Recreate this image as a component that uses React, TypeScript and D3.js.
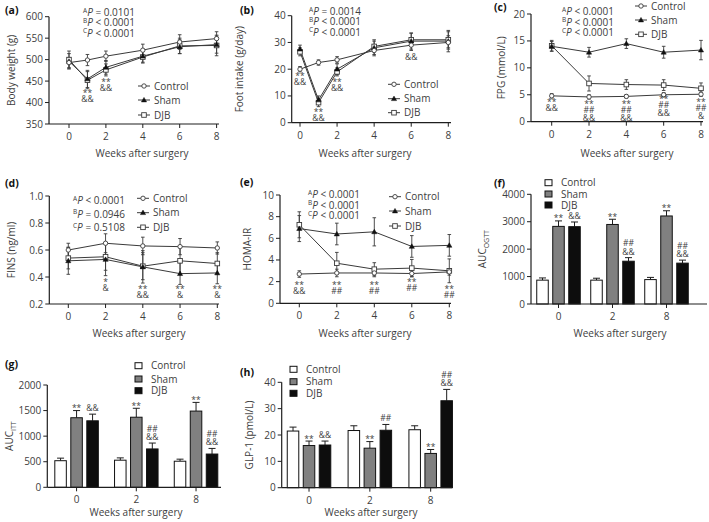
import React from "react";
import * as d3 from "d3";

// ---------- shared categories ----------
const seriesNames = ["Control", "Sham", "DJB"];
const weeks6 = [0, 1, 2, 4, 6, 8];
const weeks5 = [0, 2, 4, 6, 8];
const barGroups = ["0", "2", "8"];

// ---------- (a) body weight ----------
const bwControl = [493, 499, 508, 522, 541, 549];
const bwControlErr = [12, 13, 12, 14, 17, 16];
const bwSham = [496, 455, 482, 508, 530, 535];
const bwShamErr = [18, 20, 16, 14, 16, 20];
const bwDJB = [500, 452, 476, 506, 532, 533];
const bwDJBErr = [20, 20, 14, 14, 18, 24];
const bwTicks = [350, 400, 450, 500, 550, 600];
const bwP = [["A", "= 0.0101"], ["B", "< 0.0001"], ["C", "< 0.0001"]];
const bwAnn = [{ x: 1, v: 428, lines: ["**", "&&"] }, { x: 2, v: 452, lines: ["**", "&&"] }];

// ---------- (b) food intake ----------
const fiControl = [20, 22.5, 23.5, 27, 29, 30];
const fiControlErr = [1, 1, 1.2, 1.5, 2, 2.5];
const fiSham = [27.5, 8.5, 20, 28, 30.5, 30.5];
const fiShamErr = [1.5, 1.5, 2, 3, 3, 4];
const fiDJB = [26.5, 7.5, 19, 28.5, 31, 31];
const fiDJBErr = [1.5, 1.5, 1.5, 2, 2.5, 3];
const fiTicks = [0, 10, 20, 30, 40];
const fiP = [["A", "= 0.0014"], ["B", "< 0.0001"], ["C", "< 0.0001"]];
const fiAnn = [
  { x: 0, v: 18.2, lines: ["**", "&&"] },
  { x: 1, v: 4.7, lines: ["**", "&&"] },
  { x: 2, v: 16, lines: ["**", "&&"] },
  { x: 6, v: 24.7, lines: ["&&"] },
];

// ---------- (c) FPG ----------
const fpgControl = [4.8, 4.6, 4.7, 5.0, 5.1];
const fpgControlErr = [0.4, 0.4, 0.3, 0.4, 0.4];
const fpgSham = [14.0, 12.9, 14.5, 12.9, 13.3];
const fpgShamErr = [0.9, 0.9, 0.9, 1.1, 1.8];
const fpgDJB = [14.1, 7.1, 6.9, 6.8, 6.2];
const fpgDJBErr = [1.0, 1.4, 0.9, 1.0, 1.0];
const fpgTicks = [0, 5, 10, 15, 20];
const fpgP = [["A", "< 0.0001"], ["B", "< 0.0001"], ["C", "< 0.0001"]];
const fpgAnn = [
  { x: 0, v: 4.0, lines: ["**", "&&"] },
  { x: 2, v: 3.7, lines: ["**", "##", "&&"] },
  { x: 4, v: 3.7, lines: ["**", "##", "&&"] },
  { x: 6, v: 4.5, lines: ["**", "##", "&&"] },
  { x: 8, v: 4.0, lines: ["**", "##", "&"] },
];

// ---------- (d) FINS ----------
const finsControl = [0.6, 0.65, 0.63, 0.625, 0.615];
const finsControlErr = [0.05, 0.07, 0.065, 0.06, 0.045];
const finsSham = [0.52, 0.53, 0.475, 0.425, 0.43];
const finsShamErr = [0.1, 0.12, 0.12, 0.08, 0.08];
const finsDJB = [0.54, 0.55, 0.48, 0.52, 0.5];
const finsDJBErr = [0.08, 0.1, 0.1, 0.1, 0.08];
const finsTicks = [0.2, 0.4, 0.6, 0.8, 1.0];
const finsP = [["A", "< 0.0001"], ["B", "= 0.0946"], ["C", "= 0.5108"]];
const finsAnn = [
  { x: 2, v: 0.378, lines: ["*", "&"] },
  { x: 4, v: 0.324, lines: ["**", "&&"] },
  { x: 6, v: 0.326, lines: ["**", "&"] },
  { x: 8, v: 0.326, lines: ["**", "&"] },
];

// ---------- (e) HOMA-IR ----------
const homaControl = [2.7, 2.8, 2.8, 2.75, 2.9];
const homaControlErr = [0.3, 0.35, 0.35, 0.3, 0.3];
const homaSham = [6.9, 6.4, 6.6, 5.25, 5.35];
const homaShamErr = [1.2, 1.0, 1.3, 1.0, 1.0];
const homaDJB = [7.25, 3.7, 3.15, 3.25, 3.0];
const homaDJBErr = [1.2, 1.0, 0.6, 0.8, 1.1];
const homaTicks = [0, 2, 4, 6, 8, 10];
const homaP = [["A", "< 0.0001"], ["B", "< 0.0001"], ["C", "< 0.0001"]];
const homaAnn = [
  { x: 0, v: 1.85, lines: ["**", "&&"] },
  { x: 2, v: 1.87, lines: ["**", "##"] },
  { x: 4, v: 1.87, lines: ["**", "##"] },
  { x: 6, v: 2.15, lines: ["**", "##"] },
  { x: 8, v: 1.53, lines: ["**", "##"] },
];

// ---------- (f) AUC OGTT ----------
const ogttControl = [870, 870, 890];
const ogttControlErr = [80, 70, 80];
const ogttSham = [2830, 2900, 3210];
const ogttShamErr = [200, 190, 190];
const ogttDJB = [2820, 1560, 1490];
const ogttDJBErr = [170, 130, 110];
const ogttTicks = [0, 1000, 2000, 3000, 4000];
const ogttAnn = [
  { g: 0, s: 1, lines: ["**"] }, { g: 0, s: 2, lines: ["&&"] },
  { g: 1, s: 1, lines: ["**"] }, { g: 1, s: 2, lines: ["##", "&&"] },
  { g: 2, s: 1, lines: ["**"] }, { g: 2, s: 2, lines: ["##", "&&"] },
];

// ---------- (g) AUC ITT ----------
const ittControl = [520, 530, 510];
const ittControlErr = [50, 45, 40];
const ittSham = [1360, 1370, 1490];
const ittShamErr = [140, 175, 170];
const ittDJB = [1300, 750, 650];
const ittDJBErr = [130, 115, 110];
const ittTicks = [0, 500, 1000, 1500, 2000];
const ittAnn = [
  { g: 0, s: 1, lines: ["**"] }, { g: 0, s: 2, lines: ["&&"] },
  { g: 1, s: 1, lines: ["**"] }, { g: 1, s: 2, lines: ["##", "&&"] },
  { g: 2, s: 1, lines: ["**"] }, { g: 2, s: 2, lines: ["##", "&&"] },
];

// ---------- (h) GLP-1 ----------
const glpControl = [21.5, 21.7, 22.0];
const glpControlErr = [1.5, 1.8, 1.5];
const glpSham = [16, 15, 13];
const glpShamErr = [1.7, 2.5, 1.5];
const glpDJB = [16.2, 21.8, 33];
const glpDJBErr = [1.5, 2.2, 4.3];
const glpTicks = [0, 10, 20, 30, 40];
const glpAnn = [
  { g: 0, s: 1, lines: ["**"] }, { g: 0, s: 2, lines: ["&&"] },
  { g: 1, s: 1, lines: ["**"] }, { g: 1, s: 2, lines: ["##"] },
  { g: 2, s: 1, lines: ["**"] }, { g: 2, s: 2, lines: ["##", "&&"] },
];

// ---------- styling ----------
const FONT = "'Open Sans', 'Noto Sans', sans-serif";
const TXT = "#404040";
const AX = "#1e1e1e";
const LINE = "#3a3a3a";
const barFills = ["#ffffff", "#808080", "#0d0d0d"];

function Marker({ kind, x, y }: { kind: number; x: number; y: number }) {
  if (kind === 0) return <circle cx={x} cy={y} r={2.2} fill="#fff" stroke={LINE} strokeWidth={0.9} />;
  if (kind === 1)
    return <path d={`M${x},${y - 2.6}L${x + 2.6},${y + 1.9}L${x - 2.6},${y + 1.9}Z`} fill="#111" stroke="#111" strokeWidth={0.5} />;
  return <rect x={x - 2.3} y={y - 2.3} width={4.6} height={4.6} fill="#fff" stroke={LINE} strokeWidth={0.9} />;
}

// one <text> element for a stack of lines (significance marks)
function Stack({ x, y, lines, step }: { x: number; y: number; lines: string[]; step: number }) {
  return (
    <text x={x} y={y} textAnchor="middle" fontSize={8.5} fontFamily={FONT} fill={TXT}>
      {lines.map((t, i) => {
        const prevStar = i > 0 && lines[i - 1].startsWith("*");
        const dy = i === 0 ? (t.startsWith("*") ? 2 : 0) : step - (prevStar ? 2 : 0);
        return (
          <tspan key={i} x={x} dy={dy}>
            {t}
          </tspan>
        );
      })}
    </text>
  );
}

function PText({ x, y, rows, dy }: { x: number; y: number; rows: string[][]; dy: number }) {
  return (
    <text x={x} y={y} fontFamily={FONT} fill={TXT} fontSize={10}>
      {rows.map((r, i) => (
        <React.Fragment key={i}>
          <tspan x={x} dy={i === 0 ? -3.5 : dy - 3.5} fontSize={6.5}>{r[0]}</tspan>
          <tspan fontStyle="italic" dy={3.5}>P</tspan>
          <tspan> {r[1]}</tspan>
        </React.Fragment>
      ))}
    </text>
  );
}

function YAxis({ f, y, ticks, fmt, title, titleX }: any) {
  return (
    <g>
      <line x1={f.ax} x2={f.ax} y1={f.top} y2={f.bottom} stroke={AX} strokeWidth={1.2} />
      {ticks.map((t: number) => (
        <g key={t}>
          <line x1={f.ax - 4} x2={f.ax} y1={y(t)} y2={y(t)} stroke={AX} strokeWidth={1} />
          <text x={f.ax - 6} y={y(t) + 3.5} textAnchor="end" fontSize={10} fontFamily={FONT} fill={TXT}>
            {fmt ? fmt(t) : t}
          </text>
        </g>
      ))}
      <text
        transform={`translate(${titleX},${(f.top + f.bottom) / 2}) rotate(-90)`}
        textAnchor="middle"
        fontSize={10}
        fontFamily={FONT}
        fill={TXT}
      >
        {title}
      </text>
    </g>
  );
}

function LinePanel(props: any) {
  const { f, label, labelPos, yDomain, yTicks, fmt, yTitle, yTitleX, xs, series, pPos, pRows, legend, ann, xTitle } = props;
  const x = d3.scaleLinear().domain([0, 8]).range([f.x0, f.x1]);
  const y = d3.scaleLinear().domain(yDomain).range([f.bottom, f.top]);
  const line = d3.line<number>().x((_, i) => x(xs[i])).y((d) => y(d));
  return (
    <g>
      <text x={labelPos[0]} y={labelPos[1]} fontSize={10.5} fontWeight="bold" fontFamily={FONT} fill="#111">{label}</text>
      <YAxis f={f} y={y} ticks={yTicks} fmt={fmt} title={yTitle} titleX={yTitleX} />
      <line x1={f.ax} x2={f.axEnd} y1={f.bottom} y2={f.bottom} stroke={AX} strokeWidth={1.2} />
      {[0, 2, 4, 6, 8].map((t) => (
        <g key={t}>
          <line x1={x(t)} x2={x(t)} y1={f.bottom} y2={f.bottom + 4} stroke={AX} />
          <text x={x(t)} y={f.bottom + 16} textAnchor="middle" fontSize={10} fontFamily={FONT} fill={TXT}>{t}</text>
        </g>
      ))}
      <text x={xTitle[0]} y={xTitle[1]} textAnchor="middle" fontSize={10} fontFamily={FONT} fill={TXT}>Weeks after surgery</text>
      {series.map((s: any, si: number) => (
        <path key={"l" + si} d={line(s.values) || ""} fill="none" stroke={LINE} strokeWidth={1} />
      ))}
      {series.map((s: any, si: number) =>
        s.values.map((v: number, i: number) => {
          const cx = x(xs[i]);
          const y1 = y(v + s.errs[i]);
          const y2 = y(v - s.errs[i]);
          return (
            <g key={"e" + si + "-" + i} stroke={LINE} strokeWidth={0.9}>
              <line x1={cx} x2={cx} y1={y1} y2={y2} />
              <line x1={cx - 1.8} x2={cx + 1.8} y1={y1} y2={y1} />
              <line x1={cx - 1.8} x2={cx + 1.8} y1={y2} y2={y2} />
            </g>
          );
        })
      )}
      {series
        .map((s: any, si: number) => ({ s, si }))
        .reverse()
        .map(({ s, si }: any) =>
          s.values.map((v: number, i: number) => <Marker key={"m" + si + "-" + i} kind={si} x={x(xs[i])} y={y(v)} />)
        )}
      <PText x={pPos[0]} y={pPos[1]} rows={pRows} dy={pPos[2]} />
      {seriesNames.map((n, i) => (
        <g key={n}>
          <line x1={legend.x} x2={legend.x + 12} y1={legend.ys[i]} y2={legend.ys[i]} stroke={LINE} />
          <Marker kind={i} x={legend.x + 6} y={legend.ys[i]} />
          <text x={legend.x + 16} y={legend.ys[i] + 3.6} fontSize={10} fontFamily={FONT} fill={TXT}>{n}</text>
        </g>
      ))}
      {ann.map((a: any, ai: number) => (
        <Stack key={"a" + ai} x={x(a.x)} y={y(a.v) + 3} lines={a.lines} step={8} />
      ))}
    </g>
  );
}

function BarPanel(props: any) {
  const { f, label, labelPos, yDomain, yTicks, yTitle, yTitleX, series, legend, ann, xTitle } = props;
  const xg = d3.scaleBand().domain(barGroups).range([f.x0, f.x1]).padding(0);
  const xs = d3.scaleBand().domain(seriesNames).range([-24, 24]).paddingInner(0.28).paddingOuter(0.14);
  const y = d3.scaleLinear().domain(yDomain).range([f.bottom, f.top]);
  const bw = xs.bandwidth();
  const gc = (g: string) => (xg(g) as number) + xg.bandwidth() / 2;
  return (
    <g>
      <text x={labelPos[0]} y={labelPos[1]} fontSize={10.5} fontWeight="bold" fontFamily={FONT} fill="#111">{label}</text>
      {series.map((s: any, si: number) =>
        s.values.map((v: number, i: number) => {
          const bx = gc(barGroups[i]) + (xs(seriesNames[si]) as number);
          const cx = bx + bw / 2;
          const yt = y(v + s.errs[i]);
          return (
            <g key={si + "-" + i}>
              <line x1={cx} x2={cx} y1={y(v)} y2={yt} stroke={AX} strokeWidth={1} />
              <line x1={cx - 3.5} x2={cx + 3.5} y1={yt} y2={yt} stroke={AX} strokeWidth={1} />
              <rect x={bx} y={y(v)} width={bw} height={f.bottom - y(v)} fill={barFills[si]} stroke="#111" strokeWidth={1} />
            </g>
          );
        })
      )}
      <YAxis f={f} y={y} ticks={yTicks} title={yTitle} titleX={yTitleX} />
      <line x1={f.ax} x2={f.axEnd} y1={f.bottom} y2={f.bottom} stroke={AX} strokeWidth={1.2} />
      {barGroups.map((g) => (
        <g key={g}>
          <line x1={gc(g)} x2={gc(g)} y1={f.bottom} y2={f.bottom + 4} stroke={AX} />
          <text x={gc(g)} y={f.bottom + 16} textAnchor="middle" fontSize={10} fontFamily={FONT} fill={TXT}>{g}</text>
        </g>
      ))}
      <text x={xTitle[0]} y={xTitle[1]} textAnchor="middle" fontSize={10} fontFamily={FONT} fill={TXT}>Weeks after surgery</text>
      {ann.map((a: any, ai: number) => {
        const s = series[a.s];
        const cx = gc(barGroups[a.g]) + (xs(seriesNames[a.s]) as number) + bw / 2;
        const yt = y(s.values[a.g] + s.errs[a.g]);
        const n = a.lines.length;
        return <Stack key={ai} x={cx} y={yt - 3 - (n - 1) * 8.5 + (a.lines[0].startsWith("*") ? 1.5 : 0)} lines={a.lines} step={8.5} />;
      })}
      {seriesNames.map((n, i) => (
        <g key={n}>
          <rect x={legend.x} y={legend.ys[i] - 3} width={7} height={6} fill={barFills[i]} stroke="#111" strokeWidth={1} />
          <text x={legend.x + 16} y={legend.ys[i] + 3.6} fontSize={10} fontFamily={FONT} fill={TXT}>{n}</text>
        </g>
      ))}
    </g>
  );
}

export default function App() {
  const mk = (v: number[], e: number[]) => ({ values: v, errs: e });
  return (
    <svg width={709} height={522} style={{ position: "absolute", left: 0, top: 0, background: "#fff" }}>
      <LinePanel
        f={{ ax: 49, top: 16.7, bottom: 124, x0: 69, x1: 216.6, axEnd: 219 }}
        label="(a)" labelPos={[5, 14]}
        yDomain={[350, 600]} yTicks={bwTicks} yTitle="Body weight (g)" yTitleX={15}
        xs={weeks6}
        series={[mk(bwControl, bwControlErr), mk(bwSham, bwShamErr), mk(bwDJB, bwDJBErr)]}
        pPos={[83, 16, 10.3]} pRows={bwP}
        legend={{ x: 138, ys: [86, 100, 115] }}
        ann={bwAnn} xTitle={[142, 157]}
      />
      <LinePanel
        f={{ ax: 291.7, top: 15.7, bottom: 122.7, x0: 300, x1: 448.3, axEnd: 451 }}
        label="(b)" labelPos={[240, 14]}
        yDomain={[0, 40]} yTicks={fiTicks} yTitle="Foot intake (g/day)" yTitleX={243}
        xs={weeks6}
        series={[mk(fiControl, fiControlErr), mk(fiSham, fiShamErr), mk(fiDJB, fiDJBErr)]}
        pPos={[309, 15, 10.3]} pRows={fiP}
        legend={{ x: 388, ys: [84.3, 98.7, 112.7] }}
        ann={fiAnn} xTitle={[365, 157]}
      />
      <LinePanel
        f={{ ax: 531, top: 14, bottom: 121.7, x0: 551.7, x1: 701, axEnd: 703 }}
        label="(c)" labelPos={[494, 11]}
        yDomain={[0, 20]} yTicks={fpgTicks} yTitle="FPG (mmol/L)" yTitleX={505}
        xs={weeks5}
        series={[mk(fpgControl, fpgControlErr), mk(fpgSham, fpgShamErr), mk(fpgDJB, fpgDJBErr)]}
        pPos={[562, 15, 10.5]} pRows={fpgP}
        legend={{ x: 635, ys: [6, 20, 34.3] }}
        ann={fpgAnn} xTitle={[627, 157]}
      />
      <LinePanel
        f={{ ax: 49.3, top: 196, bottom: 304, x0: 68.3, x1: 217.3, axEnd: 219 }}
        label="(d)" labelPos={[5, 187]}
        yDomain={[0.2, 1.0]} yTicks={finsTicks} fmt={(t: number) => t.toFixed(1)} yTitle="FINS (ng/ml)" yTitleX={15}
        xs={weeks5}
        series={[mk(finsControl, finsControlErr), mk(finsSham, finsShamErr), mk(finsDJB, finsDJBErr)]}
        pPos={[73, 204, 13.5]} pRows={finsP}
        legend={{ x: 137, ys: [198.3, 212.7, 227.3] }}
        ann={finsAnn} xTitle={[139, 337]}
      />
      <LinePanel
        f={{ ax: 280, top: 195, bottom: 303.3, x0: 299.3, x1: 449.3, axEnd: 451 }}
        label="(e)" labelPos={[240, 186]}
        yDomain={[0, 10]} yTicks={homaTicks} yTitle="HOMA-IR" yTitleX={251}
        xs={weeks5}
        series={[mk(homaControl, homaControlErr), mk(homaSham, homaShamErr), mk(homaDJB, homaDJBErr)]}
        pPos={[308, 198, 10.5]} pRows={homaP}
        legend={{ x: 389, ys: [196.7, 211, 226] }}
        ann={homaAnn} xTitle={[365, 337]}
      />
      <BarPanel
        f={{ ax: 531, top: 194.3, bottom: 304, x0: 531.5, x1: 693.5, axEnd: 707 }}
        label="(f)" labelPos={[494, 187]}
        yDomain={[0, 4000]} yTicks={ogttTicks}
        yTitle={<><tspan>AUC</tspan><tspan fontSize={7} dy={3}>OGTT</tspan></>} yTitleX={486}
        series={[mk(ogttControl, ogttControlErr), mk(ogttSham, ogttShamErr), mk(ogttDJB, ogttDJBErr)]}
        legend={{ x: 545, ys: [182.7, 194, 205] }}
        ann={ogttAnn} xTitle={[620, 337]}
      />
      <BarPanel
        f={{ ax: 47.3, top: 385, bottom: 487.3, x0: 46.7, x1: 225.9, axEnd: 221 }}
        label="(g)" labelPos={[5, 368]}
        yDomain={[0, 2000]} yTicks={ittTicks}
        yTitle={<><tspan>AUC</tspan><tspan fontSize={7} dy={3}>ITT</tspan></>} yTitleX={13}
        series={[mk(ittControl, ittControlErr), mk(ittSham, ittShamErr), mk(ittDJB, ittDJBErr)]}
        legend={{ x: 135, ys: [365.7, 379, 390.7] }}
        ann={ittAnn} xTitle={[136, 516]}
      />
      <BarPanel
        f={{ ax: 281.7, top: 382.3, bottom: 487.7, x0: 278.6, x1: 461.1, axEnd: 452 }}
        label="(h)" labelPos={[240, 376]}
        yDomain={[0, 40]} yTicks={glpTicks}
        yTitle="GLP-1 (pmol/L)" yTitleX={253}
        series={[mk(glpControl, glpControlErr), mk(glpSham, glpShamErr), mk(glpDJB, glpDJBErr)]}
        legend={{ x: 290, ys: [369.3, 381.7, 393.3] }}
        ann={glpAnn} xTitle={[371, 516]}
      />
    </svg>
  );
}
